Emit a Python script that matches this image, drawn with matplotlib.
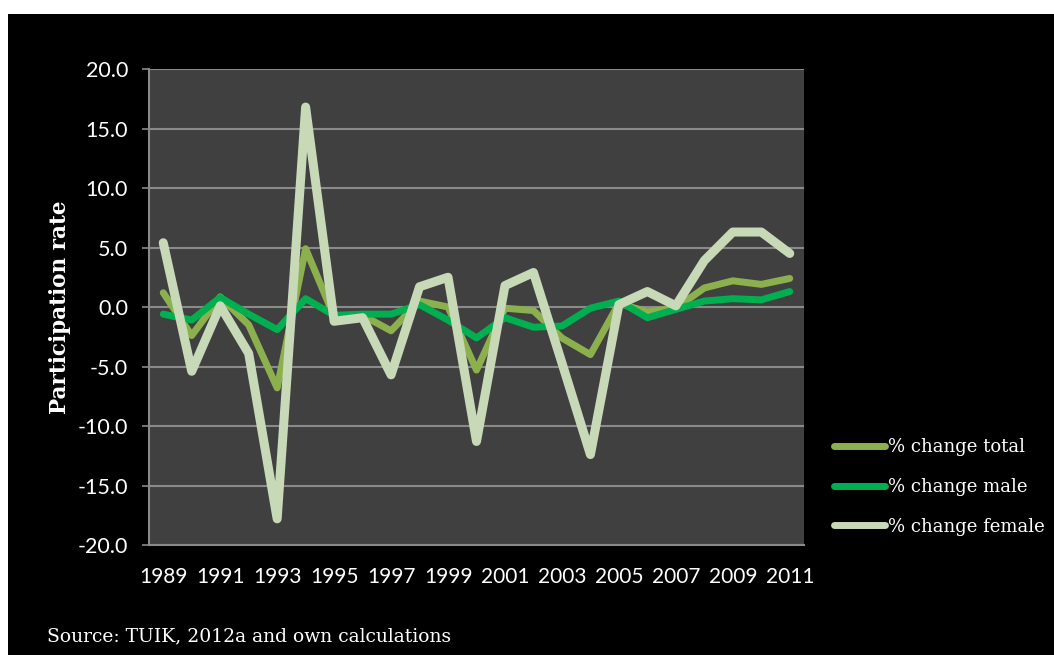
import matplotlib
matplotlib.use('AGG')
import numpy as np
import matplotlib.pyplot as plt
from matplotlib.patches import Rectangle

years = list(range(1989, 2012))
total = [1.2, -2.4, 0.85, -1.5, -6.8, 4.9, -0.8, -0.7, -2.0, 0.5, 0.0, -5.3,
         -0.1, -0.3, -2.6, -4.0, 0.3, -0.4, -0.1, 1.6, 2.2, 1.9, 2.4]
male = [-0.6, -1.1, 0.8, -0.6, -1.9, 0.7, -0.7, -0.6, -0.6, 0.2, -1.1, -2.6,
        -0.9, -1.7, -1.6, -0.1, 0.5, -0.9, -0.2, 0.5, 0.7, 0.6, 1.3]
female = [5.4, -5.4, 0.1, -3.9, -17.8, 16.8, -1.2, -0.9, -5.7, 1.7, 2.5, -11.3,
          1.8, 2.9, -4.7, -12.4, 0.2, 1.3, 0.1, 3.9, 6.3, 6.3, 4.5]
labels = ["% change total", "% change male", "% change female"]
colors = ["#8DB04E", "#00B050", "#C7D9B7"]

W, H = 1054, 655
fig = plt.figure(figsize=(W/100, H/100), dpi=100)
fig.patch.set_facecolor("white")
# black slide background, white strip on top and left
fig.patches.append(Rectangle((8/W, 0), 1 - 8/W, 1 - 14/H, transform=fig.transFigure,
                             facecolor="black", edgecolor="none", zorder=-10))

ax = fig.add_axes([149/W, 1 - 545/H, (804-149)/W, (545-69)/H])
ax.set_facecolor("#404040")
x = np.arange(len(years))

ax.plot(x, total, color=colors[0], lw=5, solid_capstyle="round", solid_joinstyle="round", label=labels[0])
ax.plot(x, male, color=colors[1], lw=5, solid_capstyle="round", solid_joinstyle="round", label=labels[1])
ax.plot(x, female, color=colors[2], lw=6.5, solid_capstyle="round", solid_joinstyle="round", label=labels[2])

ax.set_xlim(-0.5, len(years) - 0.5)
ax.set_ylim(-20, 20)
ax.set_yticks(np.arange(-20, 21, 5))
ax.set_yticklabels(["{:.1f}".format(v) for v in np.arange(-20, 21, 5)])
ax.set_xticks(x[::2])
ax.set_xticklabels([str(y) for y in years[::2]])
ax.yaxis.grid(True, color="#8A8A8A", lw=1.5)
ax.set_axisbelow(True)

for s in ["top", "right"]:
    ax.spines[s].set_visible(False)
for s in ["left", "bottom"]:
    ax.spines[s].set_color("#8A8A8A")
    ax.spines[s].set_linewidth(1.5)

ax.tick_params(axis="y", colors="#8A8A8A", length=5, width=1.2, labelcolor="white",
               labelsize=15.5, pad=10)
ax.tick_params(axis="x", length=0, labelcolor="white", labelsize=15, pad=16)
for t in ax.get_xticklabels() + ax.get_yticklabels():
    t.set_family("Lato")

ax.set_ylabel("Participation rate", color="white", fontsize=15.5, fontweight="bold",
              family="DejaVu Serif", labelpad=5)

leg = ax.legend(loc="upper left", bbox_to_anchor=(818/W, 1 - 422/H), bbox_transform=fig.transFigure,
                frameon=False, handlelength=2.8, handletextpad=0.2, labelspacing=1.2,
                prop={"family": "DejaVu Serif", "size": 13})
for t, h in zip(leg.get_texts(), leg.get_lines()):
    t.set_color("white")
    h.set_linewidth(5)

fig.text(47/W, 1 - 636/H, "Source: TUIK, 2012a and own calculations", color="white",
         fontsize=13.5, family="DejaVu Serif", va="center")

fig.savefig("out.png", dpi=100, facecolor=fig.get_facecolor())
